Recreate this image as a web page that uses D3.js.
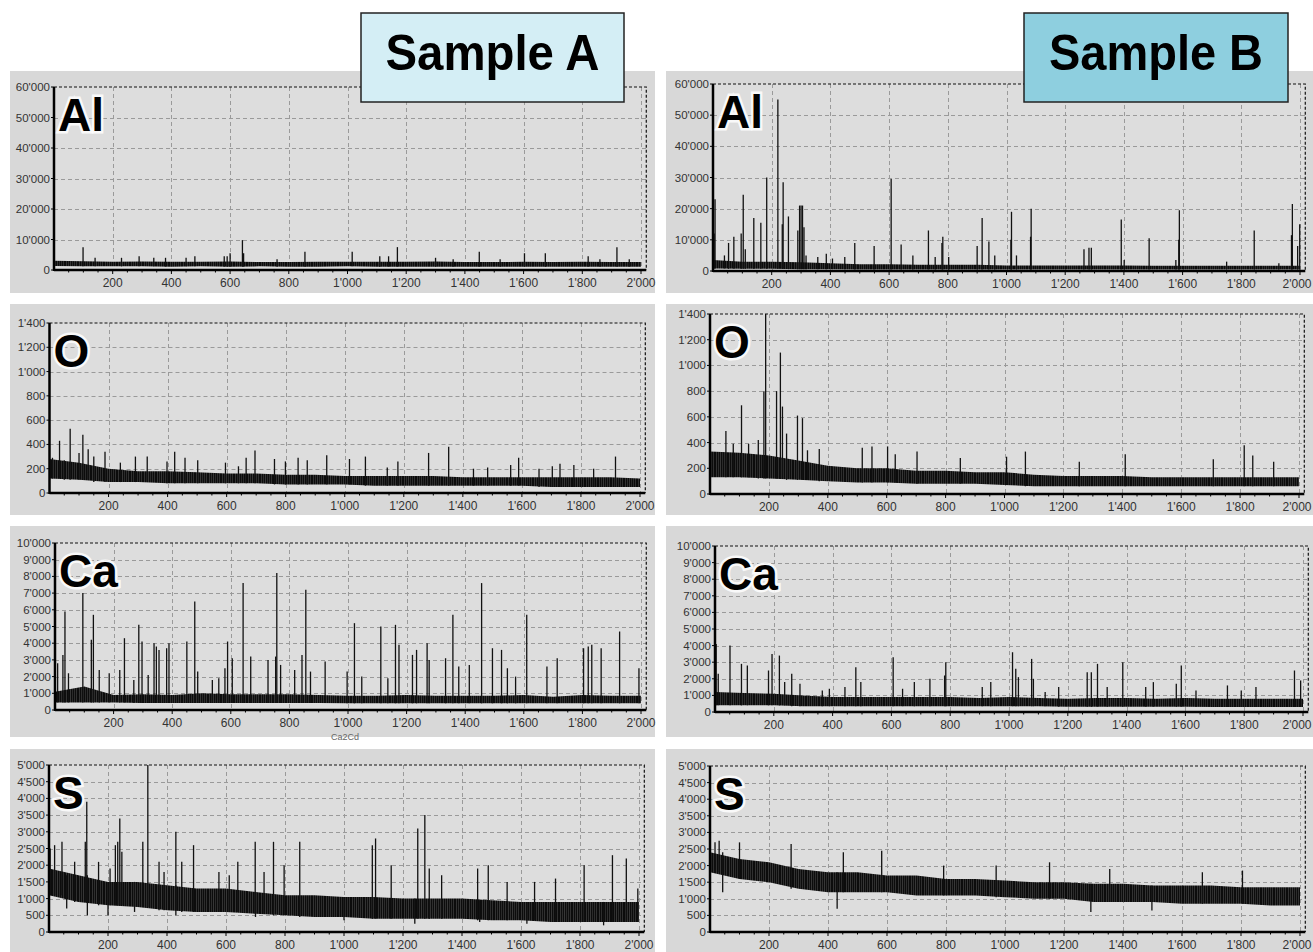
<!DOCTYPE html>
<html>
<head>
<meta charset="utf-8">
<script src="https://cdn.jsdelivr.net/npm/d3@7/dist/d3.min.js"></script>
<style>
  body { margin: 0; background: #fff; }
  svg { display: block; font-family: "Liberation Sans", Arial, sans-serif; }
  .tick-label { font-size: 11.5px; fill: #333; }
  .grid { stroke: #9a9a9a; stroke-width: 1; stroke-dasharray: 4,3; }
  .frame { stroke: #111; stroke-width: 1.2; stroke-dasharray: 3,2; fill: none; }
  .axis-line { stroke: #000; stroke-width: 2.5; }
  .band { fill: url(#noise); }
  .spike { stroke: #111; stroke-width: 1.3; }
  .element { font-size: 46px; font-weight: bold; fill: #000; stroke: #fff; stroke-width: 5; stroke-opacity: 0.85; paint-order: stroke; }
</style>
</head>
<body>
<div id="plot-container"></div>
<script>
// ---- data ----
var xTicks = [200, 400, 600, 800, 1000, 1200, 1400, 1600, 1800, 2000];
var bandX = [0, 100, 200, 300, 400, 500, 600, 700, 800, 900, 1000, 1100, 1200, 1300, 1400, 1500, 1600, 1700, 1800, 1900, 2000];

var alTicks = [0, 10000, 20000, 30000, 40000, 50000, 60000];
var oTicks = [0, 200, 400, 600, 800, 1000, 1200, 1400];
var caTicks = [0, 1000, 2000, 3000, 4000, 5000, 6000, 7000, 8000, 9000, 10000];
var sTicks = [0, 500, 1000, 1500, 2000, 2500, 3000, 3500, 4000, 4500, 5000];

// Sample A
var alA_lo = [1300, 1200, 1200, 1200, 1100, 1200, 1100, 1200, 1100, 1100, 1200, 1100, 1100, 1100, 1100, 1100, 1100, 1100, 1100, 1100, 1100];
var alA_hi = [3000, 2900, 2700, 2800, 2700, 2700, 2800, 2600, 2600, 2700, 2700, 2700, 2700, 2800, 2600, 2600, 2700, 2600, 2700, 2600, 2600];
var alA_spikes = [[99, 7500], [140, 4000], [230, 4000], [290, 4500], [340, 4000], [380, 4000], [450, 4000], [480, 4500],
  [580, 4500], [590, 4500], [600, 5500], [642, 9800], [646, 5500], [760, 3500], [855, 6000], [1016, 6000], [1110, 4500],
  [1140, 4500], [1170, 7500], [1300, 4000], [1360, 3500], [1449, 6000], [1520, 3500], [1603, 5500], [1674, 5500],
  [1820, 4500], [1860, 3500], [1918, 7500], [1960, 3500]];

var oA_lo = [120, 110, 90, 90, 80, 80, 80, 80, 70, 70, 70, 60, 60, 60, 60, 60, 60, 50, 50, 50, 50];
var oA_hi = [280, 250, 200, 180, 180, 170, 160, 160, 150, 150, 140, 140, 140, 140, 130, 130, 130, 130, 130, 130, 120];
var oA_spikes = [[10, 290], [34, 430], [50, 270], [70, 530], [100, 330], [113, 480], [131, 360], [150, 300], [188, 340],
  [240, 250], [291, 300], [331, 300], [398, 260], [424, 340], [459, 290], [502, 270], [596, 250], [640, 220], [666, 290],
  [696, 350], [762, 280], [799, 260], [842, 290], [873, 270], [939, 310], [1016, 280], [1070, 300], [1144, 210], [1180, 260],
  [1284, 330], [1352, 380], [1436, 200], [1484, 210], [1562, 230], [1589, 290], [1658, 200], [1703, 220], [1729, 240],
  [1776, 230], [1843, 200], [1917, 300]];

var caA_lo = [450, 450, 450, 420, 420, 420, 420, 420, 420, 420, 400, 400, 400, 400, 400, 400, 400, 400, 400, 400, 400];
var caA_hi = [1100, 1400, 900, 950, 900, 1000, 950, 950, 950, 900, 850, 850, 900, 850, 850, 850, 900, 800, 900, 850, 850];
var caA_spikes = [[9, 2800], [27, 3300], [34, 5900], [46, 2200], [95, 7000], [124, 4200], [131, 5700], [151, 2400],
  [185, 2200], [221, 2400], [237, 4300], [269, 1800], [286, 5100], [297, 4100], [318, 2100], [338, 4000], [346, 3800],
  [355, 3600], [381, 3700], [389, 4000], [450, 4100], [477, 6500], [487, 2300], [537, 1800], [559, 1900], [580, 2500],
  [589, 4100], [605, 3100], [642, 7600], [668, 3200], [727, 3000], [753, 3200], [757, 8200], [770, 2700], [818, 2400],
  [843, 3300], [856, 7200], [872, 2300], [922, 2900], [997, 2300], [1022, 5200], [1047, 2000], [1112, 5000], [1136, 1900],
  [1162, 5100], [1174, 3900], [1220, 3300], [1234, 3600], [1270, 4000], [1277, 3000], [1333, 3100], [1358, 5700],
  [1378, 2600], [1414, 2700], [1456, 7600], [1493, 3700], [1524, 3600], [1544, 2500], [1572, 2000], [1610, 5700],
  [1679, 2600], [1714, 3100], [1804, 3700], [1820, 3800], [1832, 3900], [1864, 3700], [1927, 4700], [1993, 2500]];

var sA_lo = [1100, 900, 800, 750, 650, 600, 600, 550, 500, 450, 450, 400, 400, 400, 400, 350, 350, 300, 300, 300, 300];
var sA_hi = [1900, 1700, 1500, 1500, 1400, 1300, 1300, 1200, 1100, 1100, 1050, 1050, 1000, 1000, 1000, 950, 900, 900, 900, 900, 900];
var sA_spikes = [[4, 2500], [19, 2600], [44, 2700], [87, 2100], [123, 2700], [128, 3900], [168, 2100], [207, 1900],
  [225, 2600], [233, 2700], [240, 3400], [247, 2400], [318, 2700], [335, 5000], [373, 2100], [390, 1800], [430, 3000],
  [450, 2100], [490, 2600], [576, 1800], [611, 1700], [640, 2100], [699, 2700], [729, 1800], [761, 2700], [797, 2000],
  [850, 2700], [1096, 2600], [1107, 2800], [1160, 2000], [1250, 3100], [1274, 3500], [1289, 1900], [1331, 1700],
  [1453, 1900], [1489, 2000], [1553, 1500], [1646, 1500], [1717, 1600], [1814, 2000], [1910, 2300], [1957, 2200], [1996, 1300]];
var sA_dips = [[60, 700], [130, 500], [200, 500], [290, 600], [430, 500], [700, 450], [1000, 350], [1240, 250], [1460, 300], [1620, 250], [1880, 200]];

// Sample B
var alB_lo = [800, 700, 700, 600, 600, 500, 500, 500, 500, 500, 500, 500, 500, 500, 500, 500, 500, 500, 500, 500, 500];
var alB_hi = [3500, 3000, 3000, 2800, 2500, 2200, 2200, 2000, 2000, 2000, 1800, 1800, 1800, 1800, 1800, 1700, 1700, 1700, 1700, 1700, 1700];
var alB_spikes = [[4, 12000], [7, 23000], [39, 5000], [53, 9000], [71, 11000], [96, 12000], [103, 24500], [110, 7000],
  [139, 17000], [163, 15500], [183, 30000], [221, 55000], [236, 15000], [239, 28500], [257, 17500], [289, 13000],
  [295, 21000], [300, 21000], [305, 21000], [310, 14000], [317, 5000], [357, 4500], [386, 5500], [407, 4000],
  [449, 4500], [483, 9000], [549, 8000], [607, 29500], [641, 8500], [681, 5000], [734, 13000], [757, 4500],
  [780, 9000], [783, 11000], [803, 4500], [900, 8000], [917, 17000], [940, 9500], [960, 5000], [1015, 10000],
  [1017, 19000], [1034, 5000], [1082, 11000], [1084, 20000], [1264, 7000], [1281, 7500], [1289, 7500], [1391, 16500],
  [1401, 3500], [1486, 10500], [1577, 3500], [1587, 10000], [1589, 19500], [1750, 3000], [1844, 13000],
  [1928, 2500], [1971, 11500], [1974, 21500], [1992, 8000], [1999, 15000]];

var oB_lo = [130, 130, 120, 110, 100, 90, 90, 80, 80, 80, 70, 60, 60, 60, 60, 60, 60, 60, 60, 60, 60];
var oB_hi = [330, 320, 300, 260, 220, 200, 200, 180, 180, 170, 170, 150, 140, 140, 140, 130, 130, 130, 130, 130, 130];
var oB_spikes = [[54, 490], [79, 390], [107, 690], [131, 390], [164, 420], [183, 800], [189, 1400], [226, 800],
  [239, 1100], [246, 680], [260, 470], [297, 610], [314, 590], [331, 340], [371, 350], [517, 360], [550, 370],
  [603, 370], [629, 310], [703, 330], [850, 280], [1007, 290], [1071, 330], [1254, 250], [1410, 310], [1709, 270],
  [1814, 380], [1843, 300], [1914, 250]];

var caB_lo = [400, 400, 400, 350, 350, 350, 350, 350, 350, 350, 350, 350, 320, 320, 320, 320, 320, 300, 300, 300, 300];
var caB_hi = [1200, 1150, 1100, 1000, 900, 900, 900, 900, 900, 850, 900, 850, 800, 850, 850, 800, 850, 800, 800, 800, 800];
var caB_spikes = [[4, 4100], [11, 2300], [51, 4000], [90, 2900], [110, 2800], [182, 2500], [194, 3500], [219, 3400],
  [237, 1800], [261, 2300], [289, 1700], [365, 1300], [389, 1400], [442, 1500], [479, 2700], [496, 1800], [606, 3300],
  [638, 1400], [678, 1800], [731, 2000], [781, 2200], [785, 3000], [909, 1500], [938, 1800], [1012, 3600], [1023, 2600],
  [1032, 2100], [1077, 3200], [1083, 2000], [1123, 1200], [1169, 1500], [1266, 2400], [1280, 2400], [1301, 2900],
  [1334, 1500], [1387, 3000], [1465, 1500], [1491, 1800], [1569, 1700], [1586, 2800], [1636, 1300], [1743, 1600],
  [1790, 1300], [1840, 1500], [1971, 2500], [1992, 1900]];

var sB_lo = [1800, 1600, 1500, 1300, 1200, 1200, 1200, 1100, 1100, 1100, 1050, 1000, 1000, 900, 900, 900, 850, 850, 850, 800, 800];
var sB_hi = [2400, 2200, 2100, 1900, 1800, 1800, 1700, 1700, 1600, 1600, 1550, 1500, 1500, 1450, 1450, 1400, 1400, 1400, 1350, 1350, 1350];
var sB_spikes = [[17, 2700], [31, 2750], [100, 2700], [275, 2650], [452, 2400], [582, 2450], [792, 2000], [970, 2000],
  [1151, 2100], [1355, 1900], [1669, 1800], [1805, 1850]];
var sB_dips = [[43, 1200], [431, 700], [1291, 600], [1498, 650]];

var elements = ['Al', 'O', 'Ca', 'S'];
var samples = ['Sample A', 'Sample B'];

// ---- layout ----
var W = 1313, H = 952;
var colBg = [[10, 655], [666, 1313]];
var rowBg = [[71, 293], [304, 515], [526, 737], [749, 952]];
// plot frames per panel: [x at 0, x at 2000, top, bottom]
var frames = [
  [[54, 641, 87, 270], [49.5, 640, 323, 493], [55, 641, 543, 710], [49, 639, 765, 932]],
  [[713, 1300, 84, 271], [710, 1299, 314, 494], [715, 1303, 546, 712], [710, 1300, 766, 932]]
];

var panels = [
  [
    {ticks: alTicks, max: 60000, lo: alA_lo, hi: alA_hi, spikes: alA_spikes},
    {ticks: oTicks, max: 1400, lo: oA_lo, hi: oA_hi, spikes: oA_spikes},
    {ticks: caTicks, max: 10000, lo: caA_lo, hi: caA_hi, spikes: caA_spikes},
    {ticks: sTicks, max: 5000, lo: sA_lo, hi: sA_hi, spikes: sA_spikes, dips: sA_dips}
  ],
  [
    {ticks: alTicks, max: 60000, lo: alB_lo, hi: alB_hi, spikes: alB_spikes},
    {ticks: oTicks, max: 1400, lo: oB_lo, hi: oB_hi, spikes: oB_spikes},
    {ticks: caTicks, max: 10000, lo: caB_lo, hi: caB_hi, spikes: caB_spikes},
    {ticks: sTicks, max: 5000, lo: sB_lo, hi: sB_hi, spikes: sB_spikes, dips: sB_dips}
  ]
];

var fmt = d3.formatLocale({decimal: '.', thousands: "'", grouping: [3], currency: ['', '']}).format(',');

var svg = d3.select('#plot-container').append('svg').attr('width', W).attr('height', H);
svg.append('rect').attr('width', W).attr('height', H).attr('fill', '#fff');

// streaky texture for the dense noise band (irregular stripe widths)
var pat = svg.append('defs').append('pattern').attr('id', 'noise')
  .attr('patternUnits', 'userSpaceOnUse').attr('width', 13).attr('height', 13);
pat.append('rect').attr('width', 13).attr('height', 13).attr('fill', '#0c0c0c');
[['#5a5a5a', 1.2, 0.5], ['#3c3c3c', 3.1, 0.7], ['#777', 5.6, 0.4], ['#2e2e2e', 7.0, 0.9], ['#4e4e4e', 9.4, 0.5], ['#666', 11.6, 0.4]]
  .forEach(function(s) {
    pat.append('rect').attr('x', s[1]).attr('y', 0).attr('width', s[2]).attr('height', 13).attr('fill', s[0]);
  });

panels.forEach(function(col, c) {
  col.forEach(function(p, r) {
    var f = frames[c][r];
    var xScale = d3.scaleLinear().domain([0, 2000]).range([f[0], f[1]]);
    var yScale = d3.scaleLinear().domain([0, p.max]).range([f[3], f[2]]);
    var xEnd = xScale(2018);
    var g = svg.append('g');

    // panel background
    g.append('rect').attr('x', colBg[c][0]).attr('y', rowBg[r][0])
      .attr('width', colBg[c][1] - colBg[c][0]).attr('height', rowBg[r][1] - rowBg[r][0])
      .attr('fill', '#d8d8d8');
    g.append('rect').attr('x', f[0]).attr('y', f[2]).attr('width', xEnd - f[0]).attr('height', f[3] - f[2])
      .attr('fill', '#dddddd');

    // grid
    g.selectAll('line.gy').data(p.ticks.filter(function(d) { return d > 0 && d < p.max; })).enter()
      .append('line').attr('class', 'grid')
      .attr('x1', f[0]).attr('x2', xEnd)
      .attr('y1', function(d) { return Math.round(yScale(d)) + 0.5; })
      .attr('y2', function(d) { return Math.round(yScale(d)) + 0.5; });
    g.selectAll('line.gx').data(xTicks).enter()
      .append('line').attr('class', 'grid')
      .attr('x1', function(d) { return Math.round(xScale(d)) + 0.5; })
      .attr('x2', function(d) { return Math.round(xScale(d)) + 0.5; })
      .attr('y1', f[2]).attr('y2', f[3]);

    // top & right frame (dashed)
    g.append('path').attr('class', 'frame')
      .attr('d', 'M' + f[0] + ',' + f[2] + 'H' + xEnd + 'V' + f[3]);

    // noise band
    var area = d3.area()
      .x(function(d, i) { return xScale(bandX[i]); })
      .y0(function(d, i) { return yScale(p.lo[i]); })
      .y1(function(d, i) { return yScale(p.hi[i]); });
    g.append('path').attr('class', 'band').attr('d', area(p.lo));

    // spikes
    function bandAt(arr, x) { return arr[Math.min(20, Math.round(x / 100))]; }
    g.selectAll('line.spike').data(p.spikes).enter().append('line').attr('class', 'spike')
      .attr('x1', function(d) { return xScale(d[0]); }).attr('x2', function(d) { return xScale(d[0]); })
      .attr('y1', function(d) { return yScale(bandAt(p.lo, d[0])); })
      .attr('y2', function(d) { return yScale(d[1]); });
    if (p.dips) {
      g.selectAll('line.dip').data(p.dips).enter().append('line').attr('class', 'spike')
        .attr('x1', function(d) { return xScale(d[0]); }).attr('x2', function(d) { return xScale(d[0]); })
        .attr('y1', function(d) { return yScale(bandAt(p.hi, d[0])); })
        .attr('y2', function(d) { return yScale(d[1]); });
    }

    // axes
    g.append('line').attr('class', 'axis-line').attr('x1', f[0]).attr('x2', f[0]).attr('y1', f[2]).attr('y2', f[3] + 1);
    g.append('line').attr('class', 'axis-line').attr('x1', f[0]).attr('x2', xEnd).attr('y1', f[3]).attr('y2', f[3]);
    g.selectAll('line.minor').data(d3.range(50, 2001, 50)).enter().append('line')
      .attr('stroke', '#000').attr('stroke-width', 1)
      .attr('x1', function(d) { return xScale(d); }).attr('x2', function(d) { return xScale(d); })
      .attr('y1', f[3]).attr('y2', function(d) { return f[3] + (d % 200 === 0 ? 4 : 2.5); });
    g.selectAll('line.ytick').data(p.ticks).enter().append('line')
      .attr('stroke', '#000').attr('stroke-width', 1)
      .attr('x1', f[0] - 3).attr('x2', f[0])
      .attr('y1', function(d) { return yScale(d); }).attr('y2', function(d) { return yScale(d); });

    g.selectAll('text.yl').data(p.ticks).enter().append('text').attr('class', 'tick-label')
      .attr('x', f[0] - 4).attr('y', function(d) { return yScale(d) + 4; })
      .attr('text-anchor', 'end').text(function(d) { return fmt(d); });
    g.selectAll('text.xl').data(xTicks).enter().append('text').attr('class', 'tick-label')
      .attr('x', function(d) { return Math.min(xScale(d), W - 16); }).attr('y', f[3] + 17)
      .attr('text-anchor', 'middle').style('font-size', '12px').text(function(d) { return fmt(d); });

    // element label
    g.append('text').attr('class', 'element').attr('x', f[0] + 4).attr('y', f[2] + 44).text(elements[r]);
  });
});

// stray axis caption under Ca (Sample A)
svg.append('text').attr('x', 345).attr('y', 740).attr('text-anchor', 'middle')
  .style('font-size', '9px').attr('fill', '#666').text('Ca2Cd');

// sample title boxes
var boxes = [[361, 13, 263, 89, '#d4eef5'], [1024, 13, 264, 89, '#8ecfdf']];
boxes.forEach(function(b, i) {
  svg.append('rect').attr('x', b[0]).attr('y', b[1]).attr('width', b[2]).attr('height', b[3])
    .attr('fill', b[4]).attr('stroke', '#222').attr('stroke-width', 1.5);
  svg.append('text').attr('x', b[0] + b[2] / 2).attr('y', b[1] + 57).attr('text-anchor', 'middle')
    .attr('textLength', 214).attr('lengthAdjust', 'spacingAndGlyphs')
    .style('font-size', '50px').style('font-weight', 'bold').attr('fill', '#000')
    .text(samples[i]);
});
</script>
</body>
</html>
